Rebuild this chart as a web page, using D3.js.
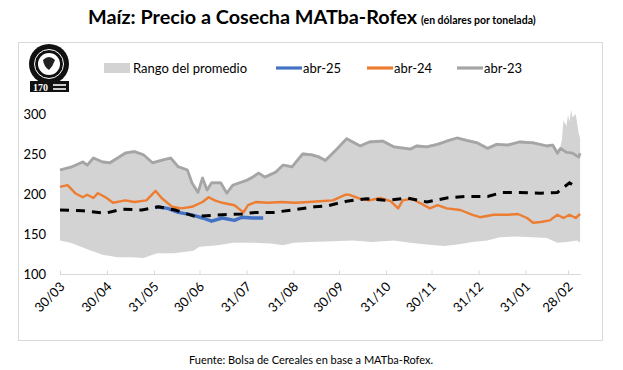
<!DOCTYPE html>
<html><head><meta charset="utf-8">
<script src="https://cdn.jsdelivr.net/npm/d3@7"></script>
<style>
body{margin:0;background:#fff;}
svg{display:block;font-family:Lato,"Open Sans",sans-serif;}
</style></head><body>
<svg id="c" width="623" height="370"></svg>
<script>
// ---- data ----
const xTickDates = ["2024-03-30","2024-04-30","2024-05-31","2024-06-30","2024-07-31","2024-08-31","2024-09-30","2024-10-31","2024-11-30","2024-12-31","2025-01-31","2025-02-28"];
const yTicks = [100,150,200,250,300];

const abr23 = [["2024-03-30",230],["2024-04-07",234],["2024-04-14",240],["2024-04-17",236],["2024-04-21",245],["2024-04-27",240],["2024-05-02",239],["2024-05-07",245],["2024-05-12",251],["2024-05-18",253],["2024-05-24",249],["2024-05-30",239],["2024-06-05",242],["2024-06-11",245],["2024-06-16",234],["2024-06-22",230],["2024-06-25",214],["2024-06-29",202],["2024-07-02",220],["2024-07-05",205],["2024-07-08",214],["2024-07-14",214],["2024-07-18",201],["2024-07-22",211],["2024-07-28",215],["2024-07-31",217],["2024-08-04",221],["2024-08-08",226],["2024-08-12",221],["2024-08-19",227],["2024-08-24",236],["2024-08-30",234],["2024-09-06",250],["2024-09-12",249],["2024-09-17",246],["2024-09-21",242],["2024-09-29",257],["2024-10-05",269],["2024-10-14",260],["2024-10-20",265],["2024-10-29",266],["2024-11-05",259],["2024-11-16",256],["2024-11-20",260],["2024-11-27",259],["2024-12-04",262],["2024-12-10",266],["2024-12-17",270],["2024-12-23",267],["2024-12-30",264],["2025-01-06",257],["2025-01-12",262],["2025-01-19",261],["2025-01-27",265],["2025-02-05",264],["2025-02-14",260],["2025-02-18",261],["2025-02-21",251],["2025-02-23",257],["2025-02-27",252],["2025-03-03",251],["2025-03-07",246],["2025-03-08",251]];

const abr24 = [["2024-03-30",209],["2024-04-04",211],["2024-04-09",201],["2024-04-14",196],["2024-04-17",199],["2024-04-21",195],["2024-04-24",201],["2024-04-29",196],["2024-05-04",189],["2024-05-12",192],["2024-05-18",190],["2024-05-26",192],["2024-06-01",204],["2024-06-05",195],["2024-06-12",184],["2024-06-18",182],["2024-06-25",184],["2024-07-02",190],["2024-07-06",196],["2024-07-10",192],["2024-07-15",189],["2024-07-23",186],["2024-07-29",177],["2024-08-01",186],["2024-08-06",190],["2024-08-14",189],["2024-08-23",190],["2024-09-01",189],["2024-09-10",190],["2024-09-17",191],["2024-09-26",192],["2024-10-04",199],["2024-10-07",199],["2024-10-14",194],["2024-10-20",192],["2024-10-27",195],["2024-11-03",191],["2024-11-08",182],["2024-11-11",192],["2024-11-17",194],["2024-11-22",189],["2024-11-29",182],["2024-12-04",186],["2024-12-10",182],["2024-12-19",180],["2024-12-27",174],["2025-01-01",171],["2025-01-10",174],["2025-01-19",174],["2025-01-26",175],["2025-02-01",170],["2025-02-05",164],["2025-02-10",165],["2025-02-16",167],["2025-02-21",174],["2025-02-25",170],["2025-03-01",174],["2025-03-05",170],["2025-03-08",175]];

const abr25 = [["2024-06-01",184],["2024-06-09",182],["2024-06-16",177],["2024-06-25",174],["2024-07-02",170],["2024-07-08",166],["2024-07-15",170],["2024-07-23",167],["2024-07-28",171],["2024-08-04",170],["2024-08-11",170]];

const promedio = [["2024-03-30",180],["2024-04-14",179],["2024-04-29",176],["2024-05-10",181],["2024-05-23",180],["2024-06-03",184],["2024-06-14",180],["2024-06-27",172],["2024-07-15",174],["2024-07-28",175],["2024-08-06",177],["2024-08-18",177],["2024-08-30",180],["2024-09-14",184],["2024-09-22",185],["2024-10-05",191],["2024-10-18",194],["2024-11-01",192],["2024-11-14",195],["2024-11-27",190],["2024-12-10",195],["2024-12-23",197],["2025-01-06",197],["2025-01-16",202],["2025-01-27",202],["2025-02-10",201],["2025-02-21",202],["2025-03-01",214],["2025-03-05",209]];

const rangoBajo = [["2024-03-30",142],["2024-04-06",139],["2024-04-17",131],["2024-04-27",124],["2024-05-07",121],["2024-05-17",121],["2024-05-24",120],["2024-06-02",126],["2024-06-13",126],["2024-06-26",129],["2024-06-30",134],["2024-07-12",136],["2024-07-22",139],["2024-08-04",139],["2024-08-16",138],["2024-08-24",136],["2024-08-31",139],["2024-09-11",140],["2024-09-26",141],["2024-10-09",142],["2024-10-22",140],["2024-11-05",142],["2024-11-16",139],["2024-11-27",137],["2024-12-08",135],["2024-12-17",137],["2024-12-27",140],["2025-01-06",142],["2025-01-14",146],["2025-01-25",147],["2025-02-05",146],["2025-02-14",145],["2025-02-21",139],["2025-02-27",140],["2025-03-06",142],["2025-03-08",139]];

const rangoAlto = [["2024-03-30",232],["2024-04-07",236],["2024-04-14",242],["2024-04-17",238],["2024-04-21",247],["2024-04-27",242],["2024-05-02",241],["2024-05-07",247],["2024-05-12",253],["2024-05-18",255],["2024-05-24",251],["2024-05-30",241],["2024-06-05",244],["2024-06-11",247],["2024-06-16",236],["2024-06-22",232],["2024-06-25",216],["2024-06-29",204],["2024-07-02",222],["2024-07-05",207],["2024-07-08",216],["2024-07-14",216],["2024-07-18",203],["2024-07-22",213],["2024-07-28",217],["2024-07-31",219],["2024-08-04",223],["2024-08-08",228],["2024-08-12",223],["2024-08-19",229],["2024-08-24",238],["2024-08-30",236],["2024-09-06",252],["2024-09-12",251],["2024-09-17",248],["2024-09-21",244],["2024-09-29",259],["2024-10-05",271],["2024-10-14",262],["2024-10-20",267],["2024-10-29",268],["2024-11-05",261],["2024-11-16",258],["2024-11-20",262],["2024-11-27",261],["2024-12-04",264],["2024-12-10",268],["2024-12-17",272],["2024-12-23",269],["2024-12-30",266],["2025-01-06",259],["2025-01-12",264],["2025-01-19",263],["2025-01-27",267],["2025-02-05",266],["2025-02-14",262],["2025-02-18",263],["2025-02-21",255],["2025-02-23",259],["2025-02-24",268],["2025-02-25",292],["2025-02-27",285],["2025-02-28",299],["2025-03-01",290],["2025-03-02",305],["2025-03-03",296],["2025-03-05",300],["2025-03-06",289],["2025-03-07",276],["2025-03-08",270]];

// ---- chart ----
const svg = d3.select("#c");
const parse = d3.utcParse("%Y-%m-%d");
const x = d3.scaleUtc().domain([parse("2024-03-30"), parse("2025-02-28")]).range([60, 568]);
const y = d3.scaleLinear().domain([100, 300]).range([274, 114]);

// frame
svg.append("rect").attr("x",18.5).attr("y",42.5).attr("width",584).attr("height",298)
  .attr("fill","none").attr("stroke","#d9d9d9").attr("stroke-width",1);

// title
const t = svg.append("text").attr("x",88).attr("y",24).attr("font-weight","bold").attr("fill","#000");
t.append("tspan").attr("font-size","19.8px").text("Maíz: Precio a Cosecha MATba-Rofex");
t.append("tspan").attr("font-size","10.5px").attr("dx",4).text("(en dólares por tonelada)");

// band
const toPts = arr => arr.map(d => [parse(d[0]), d[1]]);
const low = toPts(rangoBajo), high = toPts(rangoAlto);
const bandPoly = high.map(d => [x(d[0]), y(d[1])]).concat(low.slice().reverse().map(d => [x(d[0]), y(d[1])]));
svg.append("path").attr("d", "M" + bandPoly.map(p => p.join(",")).join("L") + "Z").attr("fill","#d3d3d3");

const line = d3.line().x(d => x(d[0])).y(d => y(d[1])).curve(d3.curveLinear);
svg.append("path").attr("d", line(toPts(abr23))).attr("fill","none").attr("stroke","#a5a5a5").attr("stroke-width",2.8).attr("stroke-linejoin","round");
svg.append("path").attr("d", line(toPts(abr24))).attr("fill","none").attr("stroke","#ed7d31").attr("stroke-width",2.4).attr("stroke-linejoin","round");
svg.append("path").attr("d", line(toPts(abr25))).attr("fill","none").attr("stroke","#4472c4").attr("stroke-width",3.4).attr("stroke-linejoin","round");
svg.append("path").attr("d", line(toPts(promedio))).attr("fill","none").attr("stroke","#000").attr("stroke-width",3).attr("stroke-dasharray","9,7");

// x axis
svg.append("line").attr("x1",60).attr("x2",581).attr("y1",274.5).attr("y2",274.5).attr("stroke","#d9d9d9");
const xAxis = svg.append("g").attr("transform","translate(0,274.5)")
  .call(d3.axisBottom(x).tickValues(xTickDates.map(parse)).tickSize(-4).tickFormat(d3.utcFormat("%d/%m")));
xAxis.select(".domain").remove();
xAxis.selectAll(".tick line").attr("stroke","#d9d9d9");
xAxis.selectAll(".tick text").attr("font-family","Lato,sans-serif").attr("font-size","13px").attr("fill","#000")
  .attr("text-anchor","end").attr("dy",0).attr("y",0)
  .attr("transform","translate(5,13) rotate(-45)");

// y axis
const yAxis = svg.append("g").attr("transform","translate(48,0)")
  .call(d3.axisLeft(y).tickValues(yTicks).tickSize(0).tickPadding(2));
yAxis.select(".domain").remove();
yAxis.selectAll(".tick text").attr("font-family","Lato,sans-serif").attr("font-size","13px").attr("fill","#000");

// legend
const lg = svg.append("g").attr("font-size","13px").attr("fill","#000");
lg.append("rect").attr("x",104).attr("y",63).attr("width",26).attr("height",10).attr("fill","#d3d3d3");
lg.append("text").attr("x",133).attr("y",72.5).text("Rango del promedio");
const leg = [["abr-25","#4472c4",276],["abr-24","#ed7d31",367],["abr-23","#a5a5a5",457]];
leg.forEach(([n,c,lx]) => {
  lg.append("line").attr("x1",lx).attr("x2",lx+26).attr("y1",68).attr("y2",68).attr("stroke",c).attr("stroke-width",3.2);
  lg.append("text").attr("x",lx+27).attr("y",72.5).text(n);
});

// logo (approximation)
const logo = svg.append("g");
logo.append("circle").attr("cx",49).attr("cy",64).attr("r",20).attr("fill","#111");
logo.append("circle").attr("cx",49).attr("cy",64).attr("r",14.5).attr("fill","none").attr("stroke","#fff").attr("stroke-width",1);
logo.append("circle").attr("cx",49).attr("cy",64).attr("r",11).attr("fill","#fff");
logo.append("path").attr("d","M43,60 Q49,54 55,60 Q53,66 49,70 Q44,67 43,60Z").attr("fill","#222");
logo.append("rect").attr("x",30).attr("y",81).attr("width",39).attr("height",11).attr("fill","#111");
logo.append("text").attr("x",33).attr("y",91).attr("font-size","10px").attr("font-family","Liberation Serif,serif").attr("font-weight","bold").attr("fill","#fff").text("170");
logo.append("rect").attr("x",53).attr("y",84).attr("width",13).attr("height",2).attr("fill","#ccc");
logo.append("rect").attr("x",53).attr("y",88).attr("width",13).attr("height",2).attr("fill","#ccc");

// footer
svg.append("text").attr("x",311).attr("y",364).attr("text-anchor","middle").attr("font-size","11px").attr("fill","#000")
  .text("Fuente: Bolsa de Cereales en base a MATba-Rofex.");
</script></body></html>
